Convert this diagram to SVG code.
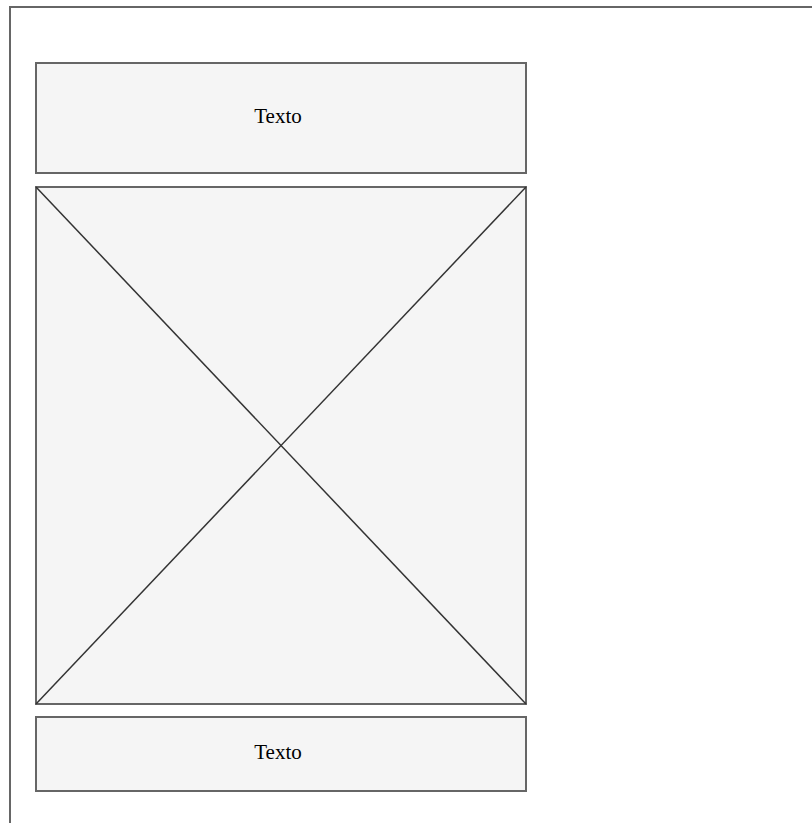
<svg xmlns="http://www.w3.org/2000/svg" width="812" height="823" viewBox="0 0 812 823">
<style>
.box{fill:#f5f5f5;stroke:#666666;stroke-width:2}
.ln{stroke:#333333;stroke-width:1.5;fill:none}
.t{font-family:"Liberation Serif","Times New Roman",serif;font-size:21px;fill:#000;text-anchor:middle;dominant-baseline:central}
</style>
<rect width="812" height="823" fill="#ffffff"/>
<g id="frame">
<rect x="10" y="7" width="820" height="840" fill="#ffffff" stroke="#666666" stroke-width="2"/>
</g>
<g id="header">
<rect class="box" x="36" y="63" width="490" height="110"/>
<text class="t" x="278" y="116">Texto</text>
</g>
<g id="image">
<rect class="box" x="36" y="187" width="490" height="517"/>
</g>
<g id="footer">
<rect class="box" x="36" y="717" width="490" height="74"/>
<text class="t" x="278" y="752">Texto</text>
</g>
<g id="connectors">
<line class="ln" x1="36" y1="187" x2="526" y2="704"/>
<line class="ln" x1="526" y1="187" x2="36" y2="704"/>
</g>
</svg>
